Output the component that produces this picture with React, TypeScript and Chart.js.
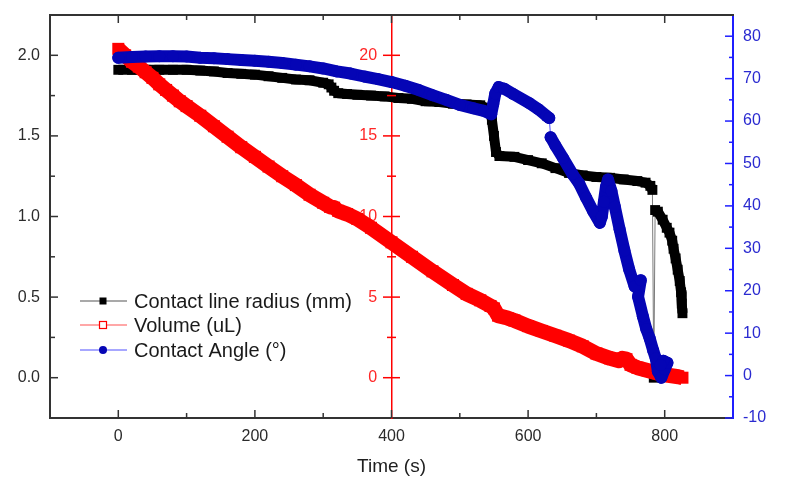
import { useEffect, useRef } from 'react';
import { Chart, registerables } from 'chart.js';

Chart.register(...registerables);

// ---------- data ----------
const SERIES_LABELS = ['Contact line radius (mm)', 'Volume (uL)', 'Contact Angle (°)'];

const RADIUS_T = [0, 20, 40, 60, 80, 100, 120, 140, 160, 180, 200, 220, 240, 260, 280, 300, 308, 312, 316, 322, 335, 350, 370, 390, 410, 430, 450, 470, 490, 510, 530, 544, 547, 550, 553, 558, 580, 600, 620, 640, 660, 680, 700, 720, 740, 760, 772, 779, 782, 784, 786, 790, 797, 803, 807, 811, 813, 816, 819, 822, 824, 825, 826];
const RADIUS_MM = [1.91, 1.91, 1.91, 1.91, 1.91, 1.91, 1.905, 1.9, 1.89, 1.885, 1.88, 1.87, 1.86, 1.85, 1.845, 1.83, 1.82, 1.8, 1.78, 1.765, 1.76, 1.755, 1.75, 1.745, 1.735, 1.73, 1.715, 1.71, 1.7, 1.695, 1.69, 1.665, 1.6, 1.5, 1.4, 1.375, 1.37, 1.35, 1.33, 1.3, 1.27, 1.255, 1.245, 1.24, 1.23, 1.22, 1.21, 1.19, 1.165, 0.0, 1.04, 1.03, 0.98, 0.93, 0.9, 0.85, 0.8, 0.74, 0.67, 0.6, 0.53, 0.46, 0.4];

const VOLUME_T = [0, 10, 20, 30, 40, 50, 60, 70, 80, 90, 100, 120, 140, 160, 180, 200, 220, 240, 260, 280, 300, 310, 316, 322, 335, 350, 370, 400, 430, 460, 490, 510, 530, 545, 550, 556, 570, 580, 600, 620, 640, 660, 680, 700, 720, 733, 738, 744, 750, 760, 775, 790, 805, 820, 826];
const VOLUME_UL = [20.4, 20.0, 19.6, 19.3, 18.95, 18.6, 18.2, 17.85, 17.5, 17.15, 16.85, 16.25, 15.6, 14.95, 14.3, 13.7, 13.1, 12.5, 11.95, 11.35, 10.85, 10.6, 10.55, 10.35, 10.15, 9.85, 9.3, 8.4, 7.5, 6.6, 5.75, 5.2, 4.8, 4.45, 4.3, 3.85, 3.7, 3.55, 3.2, 2.9, 2.6, 2.3, 1.95, 1.5, 1.2, 1.05, 1.2, 1.15, 0.8, 0.62, 0.45, 0.28, 0.15, 0.06, 0.0];

const ANGLE_T = [0, 20, 40, 60, 80, 100, 120, 140, 160, 180, 200, 220, 240, 260, 280, 300, 320, 340, 360, 380, 400, 420, 440, 460, 480, 500, 520, 535, 546, 549, 552, 557, 565, 578, 602, 615, 627, 631, 633, 640, 651, 665, 675, 685, 695, 705, 708, 711, 714, 717, 722, 727, 734, 741, 748, 756, 765, 761, 768, 773, 778, 783, 787, 790, 795, 800, 804, 798, 794];
const ANGLE_DEG = [74.9, 75.1, 75.2, 75.3, 75.3, 75.2, 74.9, 74.8, 74.6, 74.4, 74.2, 74.0, 73.7, 73.3, 72.9, 72.4, 71.7, 71.2, 70.5, 69.9, 69.2, 68.3, 67.3, 66.1, 65.0, 63.8, 63.0, 62.4, 61.6, 64.0, 66.5, 68.0, 67.6, 66.4, 64.2, 62.8, 61.2, 60.7, 56.2, 54.2, 51.3, 47.5, 45.2, 41.9, 38.8, 36.0, 37.5, 41.0, 44.5, 46.2, 43.5, 39.8, 34.5, 29.5, 25.0, 21.0, 22.5, 18.6, 14.0, 11.0, 8.8, 6.0, 4.0, 1.0, -0.5, 1.5, 3.0, 3.5, 2.5];

const X_TICKS = [0, 200, 400, 600, 800];
const X_MINOR = [100, 300, 500, 700];
const MM_TICKS = [0, 0.5, 1.0, 1.5, 2.0];
const MM_MINOR = [0.25, 0.75, 1.25, 1.75];
const VOL_TICKS = [0, 5, 10, 15, 20];
const VOL_MINOR = [2.5, 7.5, 12.5, 17.5];
const ANG_TICKS = [-10, 0, 10, 20, 30, 40, 50, 60, 70, 80];
const ANG_MINOR = [-5, 5, 15, 25, 35, 45, 55, 65, 75];

// time at which the volume axis stands, and where its labels end
const VOL_AXIS_AT = 400;
const VOL_LABELS_AT = 379;

// ---------- styling ----------
const FONT = "'Liberation Sans', Arial, Helvetica, sans-serif";
const BLACK = '#000000';
const RED = '#ff0000';
const BLUE = '#0505b5';

const pts = (xs: number[], ys: number[]) => xs.map((x, i) => ({ x, y: ys[i] }));

// thin connector where the series jumps faster than `rate` units per second
const isJump = (ctx: any, rate: number) => {
  const dx = Math.abs(ctx.p1.parsed.x - ctx.p0.parsed.x);
  const dy = Math.abs(ctx.p1.parsed.y - ctx.p0.parsed.y);
  return dy / Math.max(dx, 0.5) > rate;
};

// fix a scale's size and drop the label overflow padding so the plot frame is exact
const fixBox = (size?: { w?: number; h?: number }) => (s: any) => {
  if (size && size.w !== undefined) s.width = size.w;
  if (size && size.h !== undefined) s.height = size.h;
  s.paddingTop = 0;
  s.paddingBottom = 0;
  s.paddingLeft = 0;
  s.paddingRight = 0;
};

const ticksPlugin = {
  id: 'originTicks',
  afterDraw(chart: any) {
    const { ctx, chartArea: ca, scales } = chart;
    const sx = scales.x, sL = scales.y, sV = scales.yV, sA = scales.yA;
    const seg = (x1: number, y1: number, x2: number, y2: number) => {
      ctx.beginPath();
      ctx.moveTo(x1, y1);
      ctx.lineTo(x2, y2);
      ctx.stroke();
    };
    ctx.save();
    ctx.strokeStyle = '#333333';
    ctx.lineWidth = 2;
    seg(ca.left - 1, ca.top, ca.right + 1, ca.top);
    ctx.lineWidth = 1.5;
    X_TICKS.forEach((v) => {
      const p = sx.getPixelForValue(v);
      seg(p, ca.bottom, p, ca.bottom - 8);
      seg(p, ca.top, p, ca.top + 8);
    });
    X_MINOR.forEach((v) => {
      const p = sx.getPixelForValue(v);
      seg(p, ca.bottom, p, ca.bottom - 5);
      seg(p, ca.top, p, ca.top + 5);
    });
    MM_TICKS.forEach((v) => {
      const p = sL.getPixelForValue(v);
      seg(ca.left, p, ca.left + 8, p);
    });
    MM_MINOR.forEach((v) => {
      const p = sL.getPixelForValue(v);
      seg(ca.left, p, ca.left + 5, p);
    });
    ctx.strokeStyle = '#1f1fff';
    ANG_TICKS.forEach((v) => {
      const p = sA.getPixelForValue(v);
      seg(ca.right, p, ca.right - 8, p);
    });
    ANG_MINOR.forEach((v) => {
      const p = sA.getPixelForValue(v);
      seg(ca.right, p, ca.right - 4, p);
    });
    ctx.strokeStyle = '#ff0000';
    const vx = sx.getPixelForValue(VOL_AXIS_AT);
    VOL_TICKS.forEach((v) => {
      const p = sV.getPixelForValue(v);
      seg(vx - 8.5, p, vx + 8.5, p);
    });
    VOL_MINOR.forEach((v) => {
      const p = sV.getPixelForValue(v);
      seg(vx - 4.5, p, vx + 4.5, p);
    });
    ctx.restore();
  },
};

const legendPlugin = {
  id: 'insetLegend',
  afterDraw(chart: any) {
    const { ctx, chartArea: ca } = chart;
    const rows = [ca.bottom - 117, ca.bottom - 93, ca.bottom - 68];
    const lineCols = ['#8c8c8c', '#ff8a8a', '#8a8aff'];
    const x0 = ca.left + 30, xm = ca.left + 53, x1 = ca.left + 77, xt = ca.left + 84;
    ctx.save();
    chart.data.datasets.forEach((ds: any, i: number) => {
      const y = rows[i];
      ctx.strokeStyle = lineCols[i];
      ctx.lineWidth = 1.5;
      ctx.beginPath();
      ctx.moveTo(x0, y);
      ctx.lineTo(x1, y);
      ctx.stroke();
      if (i === 0) {
        ctx.fillStyle = BLACK;
        ctx.fillRect(xm - 3.5, y - 3.5, 7, 7);
      } else if (i === 1) {
        ctx.fillStyle = '#ffffff';
        ctx.fillRect(xm - 3.5, y - 3.5, 7, 7);
        ctx.strokeStyle = RED;
        ctx.lineWidth = 1.2;
        ctx.strokeRect(xm - 3.5, y - 3.5, 7, 7);
      } else {
        ctx.fillStyle = BLUE;
        ctx.beginPath();
        ctx.arc(xm, y, 4, 0, Math.PI * 2);
        ctx.fill();
      }
      ctx.fillStyle = '#1a1a1a';
      ctx.font = `20px ${FONT}`;
      ctx.textBaseline = 'middle';
      ctx.textAlign = 'left';
      ctx.fillText(ds.label, xt, y + 1);
    });
    ctx.restore();
  },
};

export default function App() {
  const ref = useRef<HTMLCanvasElement>(null);

  useEffect(() => {
    if (!ref.current) return;
    const tickFont = { family: FONT, size: 16 };
    const volTicks = (s: any) => {
      s.ticks = VOL_TICKS.map((value) => ({ value }));
    };
    const chart = new Chart(ref.current, {
      type: 'line',
      data: {
        datasets: [
          {
            label: SERIES_LABELS[0],
            data: pts(RADIUS_T, RADIUS_MM),
            yAxisID: 'y',
            order: 3,
            borderColor: BLACK,
            borderWidth: 10,
            borderJoinStyle: 'round',
            pointStyle: 'rect',
            pointRadius: 7,
            pointBorderWidth: 0,
            pointBackgroundColor: BLACK,
            pointBorderColor: BLACK,
            segment: {
              borderWidth: (c: any) => (isJump(c, 0.2) ? 1 : 10),
              borderColor: (c: any) => (isJump(c, 0.2) ? '#7a7a7a' : BLACK),
            },
          },
          {
            label: SERIES_LABELS[1],
            data: pts(VOLUME_T, VOLUME_UL),
            yAxisID: 'yV',
            order: 2,
            borderColor: RED,
            borderWidth: 15,
            borderJoinStyle: 'round',
            pointStyle: 'rect',
            pointRadius: 8.5,
            pointBorderWidth: 0,
            pointBackgroundColor: RED,
            pointBorderColor: RED,
          },
          {
            label: SERIES_LABELS[2],
            data: pts(ANGLE_T, ANGLE_DEG),
            yAxisID: 'yA',
            order: 1,
            borderColor: BLUE,
            borderWidth: 12,
            borderJoinStyle: 'round',
            borderCapStyle: 'round',
            pointStyle: 'circle',
            pointRadius: 6,
            pointBorderWidth: 0,
            pointBackgroundColor: BLUE,
            pointBorderColor: BLUE,
            segment: {
              borderWidth: (c: any) => (isJump(c, 2) ? 1 : 12),
              borderColor: (c: any) => (isJump(c, 2) ? '#4a4aff' : BLUE),
            },
          },
        ],
      },
      options: {
        responsive: false,
        animation: false,
        devicePixelRatio: 1,
        events: [],
        layout: { padding: { top: 15, left: 0, right: 0, bottom: 0 } },
        plugins: { legend: { display: false }, tooltip: { enabled: false } },
        scales: {
          x: {
            type: 'linear',
            position: 'bottom',
            min: -100,
            max: 900,
            afterBuildTicks: (s: any) => {
              s.ticks = X_TICKS.map((value) => ({ value }));
            },
            afterFit: fixBox({ h: 61 }),
            ticks: { font: tickFont, color: '#2b2b2b', padding: 9, maxRotation: 0, autoSkip: false },
            grid: { display: false, drawTicks: false },
            border: { display: true, color: '#333333', width: 2 },
            title: {
              display: true,
              text: 'Time (s)',
              color: '#1e1e1e',
              font: { family: FONT, size: 19 },
              padding: { top: 0, bottom: 1 },
            },
          },
          y: {
            type: 'linear',
            position: 'left',
            min: -0.25,
            max: 2.25,
            afterBuildTicks: (s: any) => {
              s.ticks = MM_TICKS.map((value) => ({ value }));
            },
            afterFit: fixBox({ w: 50 }),
            ticks: { font: tickFont, color: '#2b2b2b', padding: 10, callback: (v: any) => Number(v).toFixed(1) },
            grid: { display: false, drawTicks: false },
            border: { display: true, color: '#333333', width: 2 },
          },
          yV: {
            type: 'linear',
            axis: 'y',
            position: { x: VOL_AXIS_AT },
            min: -2.5,
            max: 22.5,
            afterBuildTicks: volTicks,
            afterFit: fixBox(),
            ticks: { display: false },
            grid: { display: false, drawTicks: false },
            border: { display: true, color: '#ff0000', width: 1.5 },
          },
          yVL: {
            type: 'linear',
            axis: 'y',
            position: { x: VOL_LABELS_AT },
            min: -2.5,
            max: 22.5,
            afterBuildTicks: volTicks,
            afterFit: fixBox(),
            ticks: { font: tickFont, color: '#ff2626' },
            grid: { display: false, drawTicks: false },
            border: { display: false },
          },
          yA: {
            type: 'linear',
            position: 'right',
            min: -10,
            max: 85,
            afterBuildTicks: (s: any) => {
              s.ticks = ANG_TICKS.map((value) => ({ value }));
            },
            afterFit: fixBox({ w: 54 }),
            ticks: { font: tickFont, color: '#2a2ad0', padding: 10 },
            grid: { display: false, drawTicks: false },
            border: { display: true, color: '#1f1fff', width: 2 },
          },
        },
      },
      plugins: [ticksPlugin, legendPlugin],
    } as any);
    return () => chart.destroy();
  }, []);

  return (
    <div style={{ position: 'absolute', left: 0, top: 0, width: 787, height: 479, background: '#ffffff' }}>
      <canvas ref={ref} width={787} height={479} style={{ display: 'block', width: 787, height: 479 }} />
    </div>
  );
}
